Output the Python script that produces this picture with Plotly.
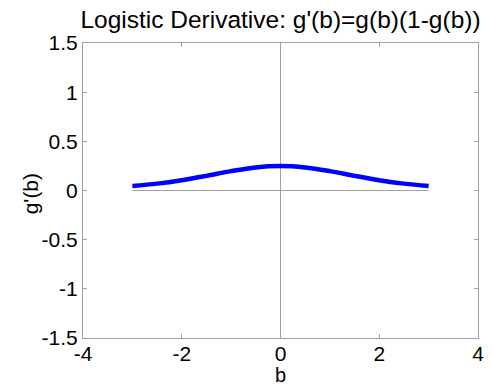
import plotly.graph_objects as go

# Curve values
b_vals = [-3.0, -2.5, -2.0, -1.5, -1.0, -0.5, 0.0, 0.5, 1.0, 1.5, 2.0, 2.5, 3.0]
g_vals = [0.045, 0.070, 0.105, 0.149, 0.197, 0.235, 0.250, 0.235, 0.197, 0.149, 0.105, 0.070, 0.045]

# Reference lines
hline_x = [-3, 3]
hline_y = [0, 0]
vline_x = [0, 0]
vline_y = [-1.5, 1.5]

x_ticks = [-4, -2, 0, 2, 4]
y_ticks = [-1.5, -1, -0.5, 0, 0.5, 1, 1.5]
y_tick_text = ["-1.5", "-1", "-0.5", "0", "0.5", "1", "1.5"]

FONT = "Liberation Sans, Arial, sans-serif"
GRAY = "#a0a0a0"

fig = go.Figure()
fig.add_trace(go.Scatter(x=hline_x, y=hline_y, mode="lines",
                         line=dict(color=GRAY, width=1), hoverinfo="skip"))
fig.add_trace(go.Scatter(x=vline_x, y=vline_y, mode="lines",
                         line=dict(color=GRAY, width=1), hoverinfo="skip"))
fig.add_trace(go.Scatter(x=b_vals, y=g_vals, mode="lines",
                         line=dict(color="#0000ff", width=4.5, shape="spline")))

axis_common = dict(showgrid=False, zeroline=False, showline=True, linecolor=GRAY,
                   linewidth=1, mirror="ticks", ticks="inside", ticklen=4,
                   tickcolor=GRAY, automargin=False,
                   tickfont=dict(family=FONT, size=21, color="black"))

fig.update_layout(
    width=492, height=387,
    margin=dict(l=83, r=14, t=43, b=49),
    paper_bgcolor="white", plot_bgcolor="white",
    showlegend=False,
    title=dict(text="Logistic Derivative: g'(b)=g(b)(1-g(b))",
               font=dict(family=FONT, size=24.5, color="black"),
               x=0.5, xref="paper", xanchor="center",
               yref="container", y=1 - 19 / 387, yanchor="middle"),
    xaxis=dict(range=[-4, 4], tickvals=x_ticks, ticktext=[str(v) for v in x_ticks],
               ticklabelstandoff=-3, **axis_common),
    yaxis=dict(range=[-1.5, 1.5], tickvals=y_ticks, ticktext=y_tick_text,
               **axis_common),
    annotations=[
        dict(text="b", xref="paper", yref="paper", x=0.5, y=-0.125,
             xanchor="center", yanchor="middle", showarrow=False,
             font=dict(family=FONT, size=20, color="black")),
        dict(text="g'(b)", xref="paper", yref="paper", x=-0.132, y=0.49,
             xanchor="center", yanchor="middle", showarrow=False, textangle=-90,
             font=dict(family=FONT, size=21, color="black")),
    ],
)

fig.write_html("out.html", config={"displayModeBar": False},
               post_script="document.body.style.margin='0';document.body.style.padding='0';")
